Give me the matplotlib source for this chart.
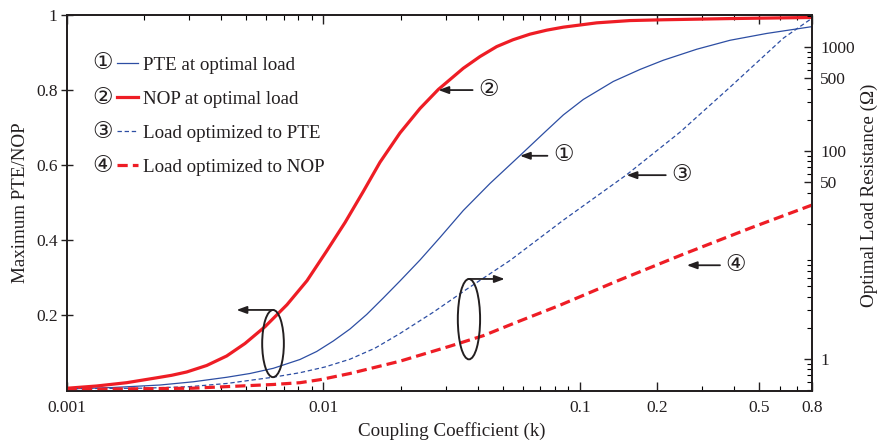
import matplotlib
matplotlib.use("Agg")
import numpy as np
import matplotlib.pyplot as plt
from matplotlib.patches import Ellipse
from matplotlib.ticker import NullFormatter, LogLocator

plt.rcParams['font.family'] = ['Liberation Serif', 'DejaVu Serif', 'DejaVu Sans']

# curve 1: maximum PTE at optimal load (left axis)
k_pte = [0.001, 0.001519, 0.00231, 0.003114, 0.004203, 0.005182, 0.006386, 0.008114,
         0.009426, 0.01094, 0.01271, 0.01476, 0.01713, 0.0199, 0.02382, 0.0285,
         0.03513, 0.04463, 0.05843, 0.07311, 0.08615, 0.1031, 0.1349, 0.1715,
         0.2113, 0.2852, 0.3846, 0.5346, 0.8]
pte = [0.0040, 0.0080, 0.0146, 0.0232, 0.0352, 0.0453, 0.0591, 0.0826,
       0.1039, 0.1318, 0.1638, 0.2024, 0.2463, 0.2916, 0.3475, 0.4075,
       0.4794, 0.5513, 0.6258, 0.6884, 0.7337, 0.7750, 0.8229, 0.8549,
       0.8794, 0.9087, 0.9326, 0.9508, 0.9688]

# curve 2: NOP at optimal load (left axis)
k_nop = [0.001, 0.001309, 0.001713, 0.002243, 0.002566, 0.002936, 0.003513, 0.004203,
         0.004954, 0.005928, 0.007222, 0.008641, 0.01031, 0.01215, 0.01432, 0.01663,
         0.0199, 0.02382, 0.02807, 0.03513, 0.04079, 0.04741, 0.05487, 0.06391,
         0.07424, 0.08615, 0.1163, 0.1568, 0.2113, 0.3846, 0.8]
nop = [0.0059, 0.0120, 0.0208, 0.0338, 0.0405, 0.0493, 0.0666, 0.0919,
       0.1252, 0.1699, 0.2285, 0.2924, 0.3715, 0.4471, 0.5300, 0.6077,
       0.6858, 0.7510, 0.8016, 0.8581, 0.8892, 0.9158, 0.9340, 0.9489,
       0.9595, 0.9675, 0.9790, 0.9851, 0.9872, 0.9904, 0.9933]

# curve 3: load optimized to PTE (right axis, ohm)
k_rpte = [0.001, 0.002, 0.002996, 0.004203, 0.006386, 0.008114, 0.01015, 0.01271,
          0.0159, 0.0199, 0.02684, 0.03622, 0.05341, 0.08615, 0.1522, 0.2455,
          0.3846, 0.6204, 0.8]
r_pte = [0.5204, 0.5262, 0.5439, 0.5840, 0.6714, 0.7414, 0.8414, 1.0,
         1.276, 1.766, 2.830, 4.711, 8.892, 21.70, 59.43, 152.3,
         412.5, 1220, 1888]

# curve 4: load optimized to NOP (right axis, ohm)
k_rnop = [0.001, 0.003106, 0.006386, 0.008114, 0.009707, 0.01271, 0.0199, 0.03117,
          0.04203, 0.05671, 0.08364, 0.1391, 0.2529, 0.4602, 0.8]
r_nop = [0.5113, 0.5262, 0.5712, 0.5943, 0.6352, 0.7286, 0.9567, 1.334,
         1.683, 2.269, 3.305, 5.623, 10.22, 18.18, 30.26]

names = ['PTE at optimal load', 'NOP at optimal load',
         'Load optimized to PTE', 'Load optimized to NOP']
nums = ['①', '②', '③', '④']

x_ticks = [0.001, 0.01, 0.1, 0.2, 0.5, 0.8]
x_labels = ['0.001', '0.01', '0.1', '0.2', '0.5', '0.8']
y_ticks = [0.2, 0.4, 0.6, 0.8, 1.0]
y_labels = ['0.2', '0.4', '0.6', '0.8', '1']
r_ticks = [1, 50, 100, 500, 1000]
r_labels = ['1', '50', '100', '500', '1000']

# call-out arrows: which axis, tip (k, value), k of the number
note_axis = ['left', 'left', 'right', 'right']
note_tip_k = [0.0584, 0.0281, 0.152, 0.261]
note_tip_v = [0.625, 0.800, 58.8, 8.0]
note_text_k = [0.0861, 0.0440, 0.249, 0.405]

BLUE = '#2d4ea3'
RED = '#ee1d25'
INK = '#231f20'
ARROW = dict(arrowstyle='-|>,head_length=0.6,head_width=0.22',
             mutation_scale=10, color=INK, lw=1.3)

fig = plt.figure(figsize=(8.77, 4.40), dpi=100)
ax = fig.add_axes([0.076, 0.1125, 0.8495, 0.8535])
ax2 = ax.twinx()

l1, = ax.plot(k_pte, pte, color=BLUE, lw=0.9)
l2, = ax.plot(k_nop, nop, color=RED, lw=2.3)
l3, = ax2.plot(k_rpte, r_pte, color=BLUE, lw=0.9, dashes=(3.5, 2.2))
l4, = ax2.plot(k_rnop, r_nop, color=RED, lw=2.3, dashes=(3.2, 1.6))

ax.set_xscale('log')
ax.set_xlim(0.001, 0.8)
ax.set_ylim(0, 1)
ax2.set_yscale('log')
ax2.set_ylim(0.5, 2040)

ax.set_xticks(x_ticks)
ax.set_xticklabels(x_labels)
ax.xaxis.set_minor_formatter(NullFormatter())
ax.set_yticks(y_ticks)
ax.set_yticklabels(y_labels)

ax2.set_yticks(r_ticks)
ax2.set_yticklabels(r_labels)
ax2.yaxis.set_minor_locator(LogLocator(subs=np.arange(2, 10)))
ax2.yaxis.set_minor_formatter(NullFormatter())

for a in (ax, ax2):
    for s in a.spines.values():
        s.set_linewidth(1.3)
        s.set_color(INK)

ax.tick_params(axis='x', which='major', direction='in', top=True, length=6.5,
               width=1, pad=7, labelsize=12.5, colors=INK)
ax.tick_params(axis='x', which='minor', direction='in', top=True, length=3.5,
               width=0.8)
ax.tick_params(axis='y', which='major', direction='inout', length=9, width=1,
               pad=2, labelsize=12.5, colors=INK)
ax2.tick_params(axis='y', which='major', direction='in', length=6, width=1,
                pad=6, labelsize=12.5, colors=INK)
ax2.tick_params(axis='y', which='minor', direction='in', length=3.5, width=0.8)

ax.set_xlabel('Coupling Coefficient (k)', fontsize=13.7, color=INK)
ax.xaxis.set_label_coords(0.517, -0.085)
ax.set_ylabel('Maximum PTE/NOP', fontsize=13.7, color=INK)
ax.yaxis.set_label_coords(-0.050, 0.5)
ax2.set_ylabel('Optimal Load Resistance (Ω)', fontsize=13.7, color=INK)
ax2.yaxis.set_label_coords(1.066, 0.52)

leg = ax2.legend([l1, l2, l3, l4], names, loc='upper left',
                 bbox_to_anchor=(0.067, 0.889), frameon=False, fontsize=13.7,
                 handlelength=1.13, handletextpad=0.26, labelspacing=0.88,
                 borderpad=0, borderaxespad=0)
for t in leg.get_texts():
    t.set_color(INK)
# circled numbers in front of each legend entry (drawn after the legend)
for line, n in zip(leg.get_lines(), nums):
    ax2.annotate(n, xy=(0, 0.5), xycoords=line, xytext=(-2.5, -0.5),
                 textcoords='offset points', ha='right', va='center',
                 fontsize=16.5, color=INK, zorder=10)

# call-outs pointing at each curve
for n, side, tk, tv, xk in zip(nums, note_axis, note_tip_k, note_tip_v, note_text_k):
    a = ax if side == 'left' else ax2
    a.annotate(n, xy=(tk, tv), xytext=(xk, tv), ha='center', va='center',
               fontsize=16.5, color=INK,
               arrowprops=dict(ARROW, shrinkA=2, shrinkB=0))

# ellipses marking which axis each group of curves uses
for (cx, cy, w, h), tip_x in [((0.277, 0.125, 0.0291, 0.179), 0.228),
                              ((0.540, 0.190, 0.0299, 0.214), 0.588)]:
    ax2.add_patch(Ellipse((cx, cy), w, h, transform=ax2.transAxes, fill=False,
                          lw=1.4, ec=INK, zorder=5))
    ax2.annotate('', xy=(tip_x, cy + h / 2), xytext=(cx, cy + h / 2),
                 xycoords='axes fraction', textcoords='axes fraction',
                 arrowprops=dict(ARROW, shrinkA=0, shrinkB=0))

fig.savefig('out.png', dpi=100)
